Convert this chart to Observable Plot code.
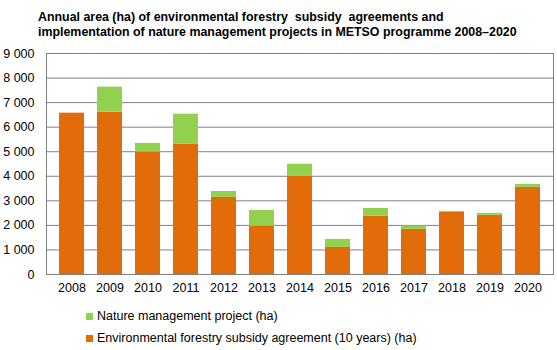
<!DOCTYPE html>
<html><head><meta charset="utf-8">
<script src="https://cdn.jsdelivr.net/npm/d3@7"></script>
<script src="https://cdn.jsdelivr.net/npm/@observablehq/plot@0.6"></script>
<style>
body{margin:0;background:#fff;font-family:"Liberation Sans",Arial,sans-serif;}
#wrap{position:relative;width:557px;height:350px;overflow:hidden;}
#title{position:absolute;left:38px;top:10px;font-weight:bold;font-size:12.4px;line-height:15px;color:#000;}
#chart{position:absolute;left:0;top:44px;}
#legend{position:absolute;left:86px;top:305px;font-size:12.5px;color:#000;}
.li{display:flex;align-items:center;height:22px;}
.sw{width:7px;height:7px;margin-right:4px;}
</style></head>
<body><div id="wrap">
<div id="title">Annual area (ha) of environmental forestry&nbsp; subsidy&nbsp; agreements and<br>implementation of nature management projects&nbsp;in METSO&nbsp;programme 2008–2020</div>
<div id="chart"></div>
<div id="legend"></div>
</div>
<script>
const years = ["2008","2009","2010","2011","2012","2013","2014","2015","2016","2017","2018","2019","2020"];
const agreement = [6570,6610,4980,5300,3140,1960,4000,1100,2370,1840,2530,2410,3550];
const nature = [0,1020,360,1230,240,650,490,330,320,130,40,80,120];
const seriesNames = ["Environmental forestry subsidy agreement (10 years) (ha)","Nature management project (ha)"];
const colors = ["#e36c0a","#92d050"];
const yTicks = [0,1000,2000,3000,4000,5000,6000,7000,8000,9000];

const data = [];
years.forEach((y,i)=>data.push({year:y, series:seriesNames[0], value:agreement[i]}));
years.forEach((y,i)=>data.push({year:y, series:seriesNames[1], value:nature[i]}));

const fmt = d3.formatLocale({decimal:",",thousands:"\u00a0",grouping:[3]}).format(",d");

const plot = Plot.plot({
  width:557, height:255,
  marginLeft:46, marginRight:4, marginTop:9, marginBottom:25,
  style:{fontFamily:"Liberation Sans, Arial, sans-serif", fontSize:"12.5px", color:"#000"},
  x:{domain:years, padding:0.33, label:null, tickSize:0, tickPadding:9},
  y:{domain:[0,9000], ticks:yTicks, label:null, tickSize:0, tickPadding:12, tickFormat:fmt},
  color:{domain:seriesNames, range:colors},
  marks:[
    Plot.ruleY(yTicks,{stroke:"#808080", strokeWidth:1}),
    Plot.barY(data,{x:"year", y:"value", fill:"series", order:seriesNames}),
    Plot.frame({stroke:"#808080"})
  ]
});
document.getElementById("chart").appendChild(plot);

const lg = document.getElementById("legend");
[1,0].forEach(i=>{
  const d = document.createElement("div"); d.className="li";
  d.innerHTML = `<span class="sw" style="background:${colors[i]}"></span><span>${seriesNames[i]}</span>`;
  lg.appendChild(d);
});
</script>
</body></html>
